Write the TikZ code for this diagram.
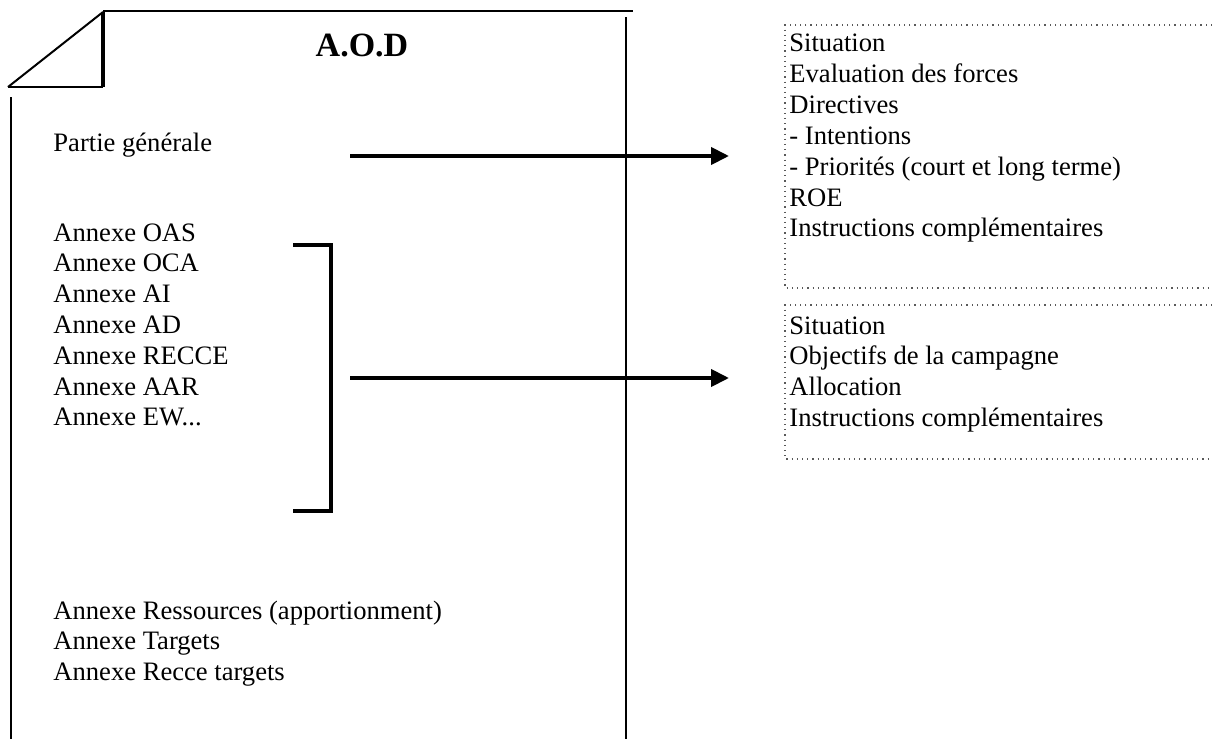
\documentclass[tikz,border=0pt]{standalone}
\usepackage{fontspec}
\setmainfont{Liberation Serif}
\usetikzlibrary{arrows.meta}
\tikzset{
  txt/.style={anchor=base west, inner sep=0pt, font=\fontsize{13.3}{16}\selectfont},
  title/.style={anchor=base, inner sep=0pt, font=\fontsize{17}{20}\selectfont\bfseries},
  doc/.style={line width=1pt, line cap=butt},
  fold/.style={line width=2.4pt},
  bigarrow/.style={line width=2pt, -{Triangle[length=9pt,width=8.5pt]}},
  bracketline/.style={line width=2pt, line join=miter},
  dotbox/.style={black!65, dotted, line width=0.6pt}
}
\begin{document}
\begin{tikzpicture}[x=0.5pt, y=-0.5pt]
\useasboundingbox (0,0) rectangle (1212,739);
% document outline
\coordinate (fA) at (8,87);
\coordinate (fB) at (103,12);
\coordinate (fC) at (103,87);
\coordinate (tR) at (633,11);
\coordinate (rT) at (626,17);
\coordinate (rB) at (626,739);
\coordinate (lT) at (11,97);
\coordinate (lB) at (11,739);
\draw[doc] (fA) -- (fB);
\draw[doc] (fA) -- (fC);
\draw[fold] (fB) -- (fC);
\draw[doc] (fB |- tR) -- (tR);
\draw[line width=0.8pt] (rT) -- (rB);
\draw[doc] (lT) -- (lB);
% title
\node[title] (aod) at (362,56) {A.O.D};
% left texts
\node[txt] (pg) at (53,151) {Partie générale};
\node[txt] (an1) at (53,241) {Annexe OAS};
\node[txt] (an2) at (53,271.8) {Annexe OCA};
\node[txt] (an3) at (53,302.6) {Annexe AI};
\node[txt] (an4) at (53,333.4) {Annexe AD};
\node[txt] (an5) at (53,364.2) {Annexe RECCE};
\node[txt] (an6) at (53,395) {Annexe AAR};
\node[txt] (an7) at (53,425.8) {Annexe EW...};
\node[txt] (rs1) at (53,619) {Annexe Ressources (apportionment)};
\node[txt] (rs2) at (53,649.8) {Annexe Targets};
\node[txt] (rs3) at (53,680.6) {Annexe Recce targets};
% bracket
\coordinate (brA) at (293,245);
\coordinate (brB) at (331,245);
\coordinate (brC) at (331,511);
\coordinate (brD) at (293,511);
\draw[bracketline] (brA) -- (brB) -- (brC) -- (brD);
% right boxes
\coordinate (b1tl) at (785,25);
\coordinate (b1bl) at (785,288);
\coordinate (b2tl) at (785,305);
\coordinate (b2bl) at (785,459);
\coordinate (b1tr) at (1212,25);
\coordinate (b1br) at (1212,288);
\coordinate (b2tr) at (1212,305);
\coordinate (b2br) at (1212,459);
\draw[dotbox] (b1tr) -- (b1tl) -- (b1bl) -- (b1br);
\draw[dotbox] (b2tr) -- (b2tl) -- (b2bl) -- (b2br);
\node[txt] (ba1) at (789,52) {Situation};
\node[txt] (ba2) at (789,82.8) {Evaluation des forces};
\node[txt] (ba3) at (789,113.6) {Directives};
\node[txt] (ba4) at (789,144.4) {- Intentions};
\node[txt] (ba5) at (789,175.2) {- Priorités (court et long terme)};
\node[txt] (ba6) at (789,206) {ROE};
\node[txt] (ba7) at (789,236.8) {Instructions complémentaires};
\node[txt] (bb1) at (789,334) {Situation};
\node[txt] (bb2) at (789,364.8) {Objectifs de la campagne};
\node[txt] (bb3) at (789,395.6) {Allocation};
\node[txt] (bb4) at (789,426.4) {Instructions complémentaires};
% arrows
\coordinate (a1s) at (350,156);
\coordinate (a1e) at (729,156);
\coordinate (a2s) at (350,378);
\coordinate (a2e) at (729,378);
\draw[bigarrow] (a1s) -- (a1e);
\draw[bigarrow] (a2s) -- (a2e);
\end{tikzpicture}
\end{document}
